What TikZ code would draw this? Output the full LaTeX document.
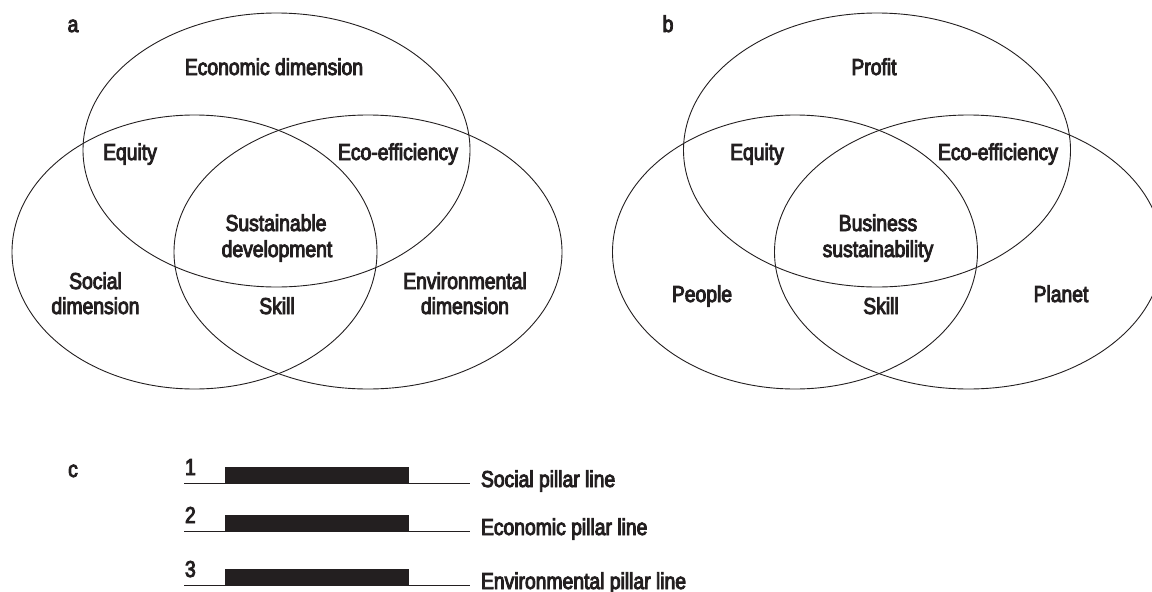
\documentclass[tikz,border=0pt]{standalone}
\usepackage{fontspec}
\setmainfont{Liberation Sans}[FakeStretch=0.84, FakeBold=4]
\definecolor{ink}{HTML}{231F20}
\begin{document}
\begin{tikzpicture}[x=1pt,y=-1pt,
  venn/.style={draw=ink, line width=0.9pt},
  lbl/.style={anchor=base, inner sep=0pt, outer sep=0pt, text=ink, font=\fontsize{23}{27}\selectfont},
  lblw/.style={lbl, anchor=base west},
  pillar/.style={draw=ink, line width=0.9pt},
  barfill/.style={fill=ink}]
\useasboundingbox (0,0) rectangle (1152,592);
\clip (0,0) rectangle (1152,592);

% ---------- panel a ----------
\node[lbl] (la) at (73,32) {a};
\draw[venn] (276.5,150) ellipse [x radius=193.5pt, y radius=137pt];
\draw[venn] (194.5,252) ellipse [x radius=182.5pt, y radius=137pt];
\draw[venn] (368,252) ellipse [x radius=194pt, y radius=137pt];
\node[lbl] (aeco) at (274,75) {Economic dimension};
\node[lbl] (aeq) at (130,160) {Equity};
\node[lbl] (aeff) at (398,160) {Eco-efficiency};
\node[lbl] (asd1) at (276,231) {Sustainable};
\node[lbl] (asd2) at (277,257) {development};
\node[lbl] (aso1) at (95.5,289) {Social};
\node[lbl] (aso2) at (95.5,314) {dimension};
\node[lbl] (ask) at (277,314) {Skill};
\node[lbl] (aen1) at (465,289) {Environmental};
\node[lbl] (aen2) at (465,314) {dimension};

% ---------- panel b ----------
\node[lbl] (lb) at (668,32) {b};
\draw[venn] (877,150) ellipse [x radius=193.5pt, y radius=137pt];
\draw[venn] (795,252) ellipse [x radius=182.5pt, y radius=137pt];
\draw[venn] (968.5,252) ellipse [x radius=194pt, y radius=137pt];
\node[lbl] (bpr) at (874,75) {Profit};
\node[lbl] (beq) at (757,160) {Equity};
\node[lbl] (beff) at (998,160) {Eco-efficiency};
\node[lbl] (bbs1) at (878,231) {Business};
\node[lbl] (bbs2) at (878,257) {sustainability};
\node[lbl] (bpe) at (702,302) {People};
\node[lbl] (bsk) at (881,314) {Skill};
\node[lbl] (bpl) at (1061,302) {Planet};

% ---------- panel c ----------
\node[lbl] (lc) at (73,477) {c};
\foreach \i/\y/\txt in {1/483/Social pillar line, 2/531/Economic pillar line, 3/585/Environmental pillar line}{
  \coordinate (s\i) at (184,\y);
  \coordinate (e\i) at (470,\y);
  \draw[pillar] (s\i) -- (e\i);
  \fill[barfill] (225,\y-16) rectangle (409,\y);
  \node[lblw] (n\i) at (185,\y-8) {\i};
  \node[lblw] (t\i) at (481,\y+4) {\txt};
}
\end{tikzpicture}
\end{document}
